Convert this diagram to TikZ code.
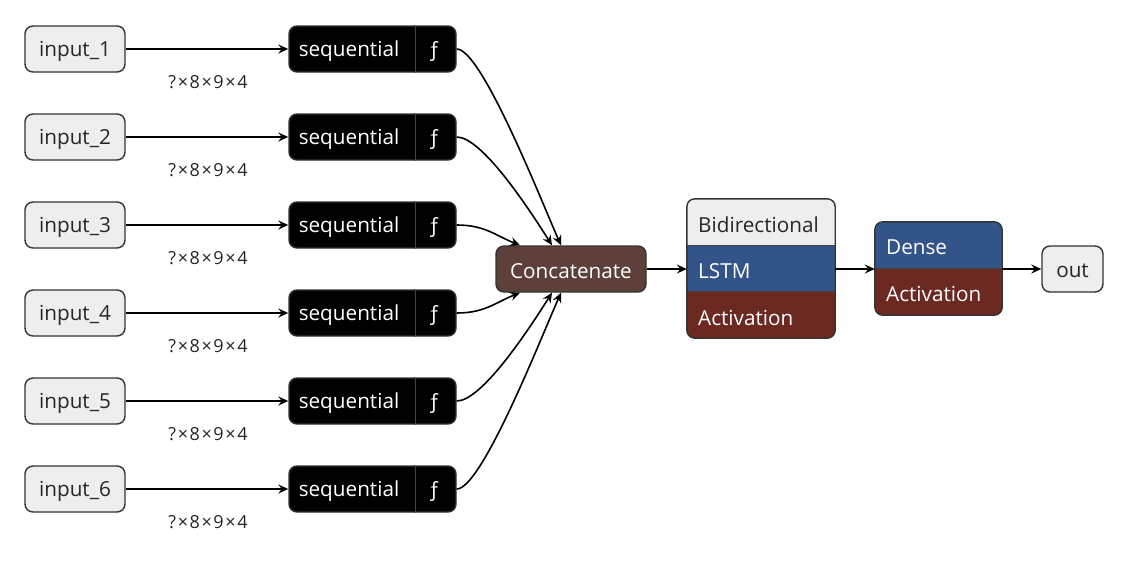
\documentclass[tikz,border=0pt]{standalone}
\usepackage{fontspec}
\setmainfont{Open Sans}
\usetikzlibrary{arrows.meta,calc}
\definecolor{lightbox}{HTML}{EEEEEE}
\definecolor{edgegray}{HTML}{333333}
\definecolor{divgray}{HTML}{444444}
\definecolor{concatbrown}{HTML}{5D4039}
\definecolor{lstmblue}{HTML}{335488}
\definecolor{actred}{HTML}{6C2922}
\newcommand{\tx}{\kern1.6pt}
\begin{document}
\begin{tikzpicture}[x=1pt,y=-1pt,
  mainfont/.style={font=\fontsize{20.7}{24}\selectfont},
  inbox/.style={mainfont, draw=edgegray, line width=1.4pt, fill=lightbox, rounded corners=8pt, minimum width=100pt, minimum height=46pt, inner sep=0pt, text=black!85},
  seqbox/.style={draw=edgegray, line width=1.4pt, fill=black, rounded corners=8pt, minimum width=167pt, minimum height=46pt, inner sep=0pt},
  wtext/.style={mainfont, text=white, inner sep=0pt},
  dtext/.style={mainfont, text=black!85, inner sep=0pt},
  shapelabel/.style={font=\fontsize{18}{21}\selectfont, text=black!85, inner sep=0pt},
  conn/.style={-{Stealth[length=10pt,width=9pt,inset=3.5pt]}, line width=1.6pt, black},
  frame/.style={draw=edgegray, line width=1.4pt, rounded corners=8pt},
  sep/.style={draw=divgray, line width=1.2pt}
]
\useasboundingbox (0,0) rectangle (1130,560);

\foreach \i in {1,...,6} {
  \pgfmathsetmacro\yy{49+88*(\i-1)}
  \node[inbox, text depth=0pt] (in\i) at (75,\yy) {};
  \node[mainfont, text=black!85, inner sep=0pt] (int\i) at (75,{\yy+2}) {input\_\i};
  \node[seqbox] (seq\i) at (372.5,\yy) {};
  \node[wtext] (seqt\i) at (349,{\yy+2}) {sequential};
  \node[wtext] (seqf\i) at (434,{\yy+2}) {ƒ};
  \draw[sep] ($(seq\i.north west)+(127,0)$) -- ($(seq\i.south west)+(127,0)$);
  \node[shapelabel] (lab\i) at (208,{\yy+33}) {?\tx×\tx8\tx×\tx9\tx×\tx4};
  \draw[conn] (in\i) -- (seq\i);
}

% Concatenate
\node[draw=edgegray, line width=1.4pt, fill=concatbrown, rounded corners=8pt,
      minimum width=150pt, minimum height=46pt, inner sep=0pt] (cat) at (571,269) {};
\node[wtext] (catt) at (571,271) {Concatenate};

\draw[conn] (seq1.east) .. controls +(25,0) and +(-20,-45) .. ($(cat.north)+(-10,0)$);
\draw[conn] (seq2.east) .. controls +(25,0) and +(-24,-38) .. ($(cat.north)+(-19,0)$);
\draw[conn] (seq3.east) .. controls +(28,0) and +(-25,-10) .. ($(cat.north)+(-51,0)$);
\draw[conn] (seq4.east) .. controls +(28,0) and +(-25,10) .. ($(cat.south)+(-51,0)$);
\draw[conn] (seq5.east) .. controls +(25,0) and +(-24,38) .. ($(cat.south)+(-19,0)$);
\draw[conn] (seq6.east) .. controls +(25,0) and +(-20,45) .. ($(cat.south)+(-10,0)$);

% Bidirectional LSTM
\node[minimum width=148pt, minimum height=139pt, inner sep=0pt] (bidi) at (761,268.5) {};
\begin{scope}
  \clip[rounded corners=8pt] (bidi.north west) rectangle (bidi.south east);
  \fill[lightbox] (bidi.north west) rectangle ($(bidi.north east)+(0,46.3)$);
  \fill[lstmblue] ($(bidi.north west)+(0,46.3)$) rectangle ($(bidi.north east)+(0,92.7)$);
  \fill[actred] ($(bidi.north west)+(0,92.7)$) rectangle (bidi.south east);
\end{scope}
\draw[sep] ($(bidi.north west)+(0,46.3)$) -- ($(bidi.north east)+(0,46.3)$);
\draw[sep] ($(bidi.north west)+(0,92.7)$) -- ($(bidi.north east)+(0,92.7)$);
\draw[frame] (bidi.north west) rectangle (bidi.south east);
\node[dtext, anchor=west] (bidit) at (698,224.5) {Bidirectional};
\node[wtext, anchor=west] (lstm) at (698,271) {LSTM};
\node[wtext, anchor=west] (bact) at (698,317.5) {Activation};

% Dense
\node[minimum width=127pt, minimum height=93pt, inner sep=0pt] (dense) at (938.5,268.5) {};
\begin{scope}
  \clip[rounded corners=8pt] (dense.north west) rectangle (dense.south east);
  \fill[lstmblue] (dense.north west) rectangle ($(dense.north east)+(0,46.5)$);
  \fill[actred] ($(dense.north west)+(0,46.5)$) rectangle (dense.south east);
\end{scope}
\draw[sep] ($(dense.north west)+(0,46.5)$) -- ($(dense.north east)+(0,46.5)$);
\draw[frame] (dense.north west) rectangle (dense.south east);
\node[wtext, anchor=west] (denset) at (886,247.5) {Dense};
\node[wtext, anchor=west] (dact) at (886,294) {Activation};

% out
\node[inbox, minimum width=61pt] (out) at (1072.5,269) {};
\node[mainfont, text=black!85, inner sep=0pt] (outt) at (1072.5,271) {out};

\draw[conn] (cat.east) -- (bidi.west |- cat.east);
\draw[conn] (bidi.east |- cat.east) -- (dense.west |- cat.east);
\draw[conn] (dense.east |- out.west) -- (out.west);
\end{tikzpicture}
\end{document}
